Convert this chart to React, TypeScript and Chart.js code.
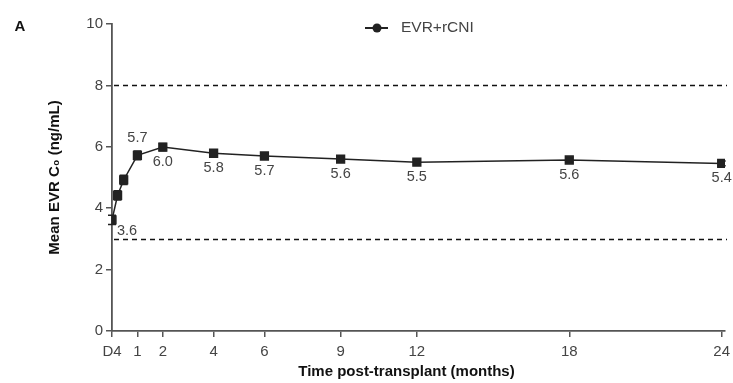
import React, { useEffect, useRef } from "react";
import { Chart, registerables } from "chart.js";

Chart.register(...registerables);

// Time (months); D4 shown at the axis origin
const timeMonths = [0, 0.22, 0.46, 1, 2, 4, 6, 9, 12, 18, 24];
const meanC0 = [3.62, 4.42, 4.92, 5.72, 5.99, 5.79, 5.7, 5.6, 5.5, 5.57, 5.46];
const errC0 = [0.15, 0.15, 0.15, 0.14, 0.12, 0.1, 0.1, 0.08, 0.08, 0.08, 0.08];
const pointLabels = ["3.6", "", "", "5.7", "6.0", "5.8", "5.7", "5.6", "5.5", "5.6", "5.4"];
const labelPlacement = ["right", "", "", "above", "below", "below", "below", "below", "below", "below", "below"];
const xTickValues = [0, 1, 2, 4, 6, 9, 12, 18, 24];
const xTickLabels = ["D4", "1", "2", "4", "6", "9", "12", "18", "24"];
const targetRange = [3, 8];
const seriesName = "EVR+rCNI";
const xTitle = "Time post-transplant (months)";

const FONT = "'Liberation Sans', Arial, sans-serif";
const DARK = "#222";
const TEXT = "#444";
const AXIS = "#555";

export default function App() {
  const ref = useRef<HTMLCanvasElement | null>(null);

  useEffect(() => {
    document.body.style.margin = "0";
    const canvas = ref.current;
    if (!canvas) return;

    const extras = {
      id: "extras",
      beforeDatasetsDraw(chart: any) {
        const { ctx, chartArea, scales } = chart;
        const y = scales.y;
        ctx.save();
        ctx.strokeStyle = "#111";
        ctx.lineWidth = 1.3;
        ctx.setLineDash([5, 4]);
        for (const v of targetRange) {
          const py = Math.round(y.getPixelForValue(v)) + 0.5;
          ctx.beginPath();
          ctx.moveTo(chartArea.left + 2, py);
          ctx.lineTo(chartArea.right + 2, py);
          ctx.stroke();
        }
        ctx.setLineDash([]);
        // error bars
        const x = scales.x;
        ctx.strokeStyle = DARK;
        ctx.lineWidth = 1.5;
        for (let i = 0; i < timeMonths.length; i++) {
          const px = x.getPixelForValue(timeMonths[i]);
          const top = y.getPixelForValue(meanC0[i] + errC0[i]);
          const bot = y.getPixelForValue(meanC0[i] - errC0[i]);
          ctx.beginPath();
          ctx.moveTo(px, top);
          ctx.lineTo(px, bot);
          ctx.moveTo(px - 4, top);
          ctx.lineTo(px + 4, top);
          ctx.moveTo(px - 4, bot);
          ctx.lineTo(px + 4, bot);
          ctx.stroke();
        }
        ctx.restore();
      },
      afterDraw(chart: any) {
        const { ctx, chartArea } = chart;
        const meta = chart.getDatasetMeta(0);
        ctx.save();
        ctx.fillStyle = TEXT;
        ctx.font = `14.5px ${FONT}`;
        ctx.textAlign = "center";
        ctx.textBaseline = "middle";
        meta.data.forEach((pt: any, i: number) => {
          const t = pointLabels[i];
          if (!t) return;
          const pl = labelPlacement[i];
          let lx = pt.x;
          let ly = pt.y + 15;
          if (pl === "above") ly = pt.y - 17;
          if (pl === "right") {
            lx = pt.x + 15;
            ly = pt.y + 11;
          }
          ctx.fillText(t, lx, ly);
        });
        // x-axis title (slightly left of plot centre, as in the original)
        ctx.fillStyle = "#111";
        ctx.font = `bold 15px ${FONT}`;
        ctx.fillText(xTitle, (chartArea.left + chartArea.right) / 2 - 12, chartArea.bottom + 41);
        // legend
        ctx.strokeStyle = DARK;
        ctx.lineWidth = 2;
        ctx.beginPath();
        ctx.moveTo(365, 28);
        ctx.lineTo(388, 28);
        ctx.stroke();
        ctx.fillStyle = DARK;
        ctx.beginPath();
        ctx.arc(377, 28, 4.5, 0, Math.PI * 2);
        ctx.fill();
        ctx.fillStyle = TEXT;
        ctx.textAlign = "left";
        ctx.font = `15.5px ${FONT}`;
        ctx.fillText(seriesName, 401, 28);
        // panel letter
        ctx.fillStyle = "#111";
        ctx.font = `bold 15px ${FONT}`;
        ctx.textAlign = "center";
        ctx.fillText("A", 20, 27);
        ctx.restore();
      },
    };

    const chart = new Chart(canvas, {
      type: "line",
      data: {
        datasets: [
          {
            label: seriesName,
            data: timeMonths.map((t, i) => ({ x: t, y: meanC0[i] })),
            borderColor: DARK,
            backgroundColor: DARK,
            borderWidth: 1.5,
            pointStyle: "rect",
            pointRadius: 5.5,
            pointHoverRadius: 5.5,
            pointBackgroundColor: DARK,
            pointBorderColor: DARK,
            tension: 0,
          },
        ],
      },
      options: {
        animation: false,
        responsive: false,
        maintainAspectRatio: false,
        events: [],
        layout: { padding: { left: 0, right: 8, top: 24, bottom: 0 } },
        plugins: {
          legend: { display: false },
          tooltip: { enabled: false },
        },
        scales: {
          x: {
            type: "linear",
            min: 0,
            max: 24.13,
            afterBuildTicks(scale: any) {
              scale.ticks = xTickValues.map((v) => ({ value: v }));
            },
            afterFit(scale: any) {
              scale.height = 383 - 331;
              scale.paddingLeft = 0;
              scale.paddingRight = 0;
            },
            grid: {
              drawOnChartArea: false,
              drawTicks: true,
              tickLength: 6,
              color: AXIS,
              lineWidth: 1.5,
            },
            border: { display: true, color: AXIS, width: 1.8 },
            ticks: {
              autoSkip: false,
              maxRotation: 0,
              padding: 6,
              color: TEXT,
              font: { family: FONT, size: 15 },
              callback: (v: any) => {
                const idx = xTickValues.indexOf(Number(v));
                return idx >= 0 ? xTickLabels[idx] : "";
              },
            },
            title: { display: false },
          },
          y: {
            min: 0,
            max: 10,
            afterFit(scale: any) {
              scale.width = 112;
              scale.paddingTop = 0;
              scale.paddingBottom = 0;
            },
            grid: {
              drawOnChartArea: false,
              drawTicks: true,
              tickLength: 6,
              color: AXIS,
              lineWidth: 1.5,
            },
            border: { display: true, color: AXIS, width: 1.8 },
            ticks: {
              stepSize: 2,
              padding: 3,
              color: TEXT,
              font: { family: FONT, size: 15 },
            },
            title: {
              display: true,
              text: "Mean EVR C₀ (ng/mL)",
              color: "#111",
              font: { family: FONT, size: 15, weight: "bold" },
              padding: { top: 46, bottom: 0 },
            },
          },
        },
      },
      plugins: [extras],
    });

    return () => chart.destroy();
  }, []);

  return (
    <div style={{ width: 733, height: 383, background: "#fff" }}>
      <canvas ref={ref} width={733} height={383} style={{ display: "block" }} />
    </div>
  );
}
